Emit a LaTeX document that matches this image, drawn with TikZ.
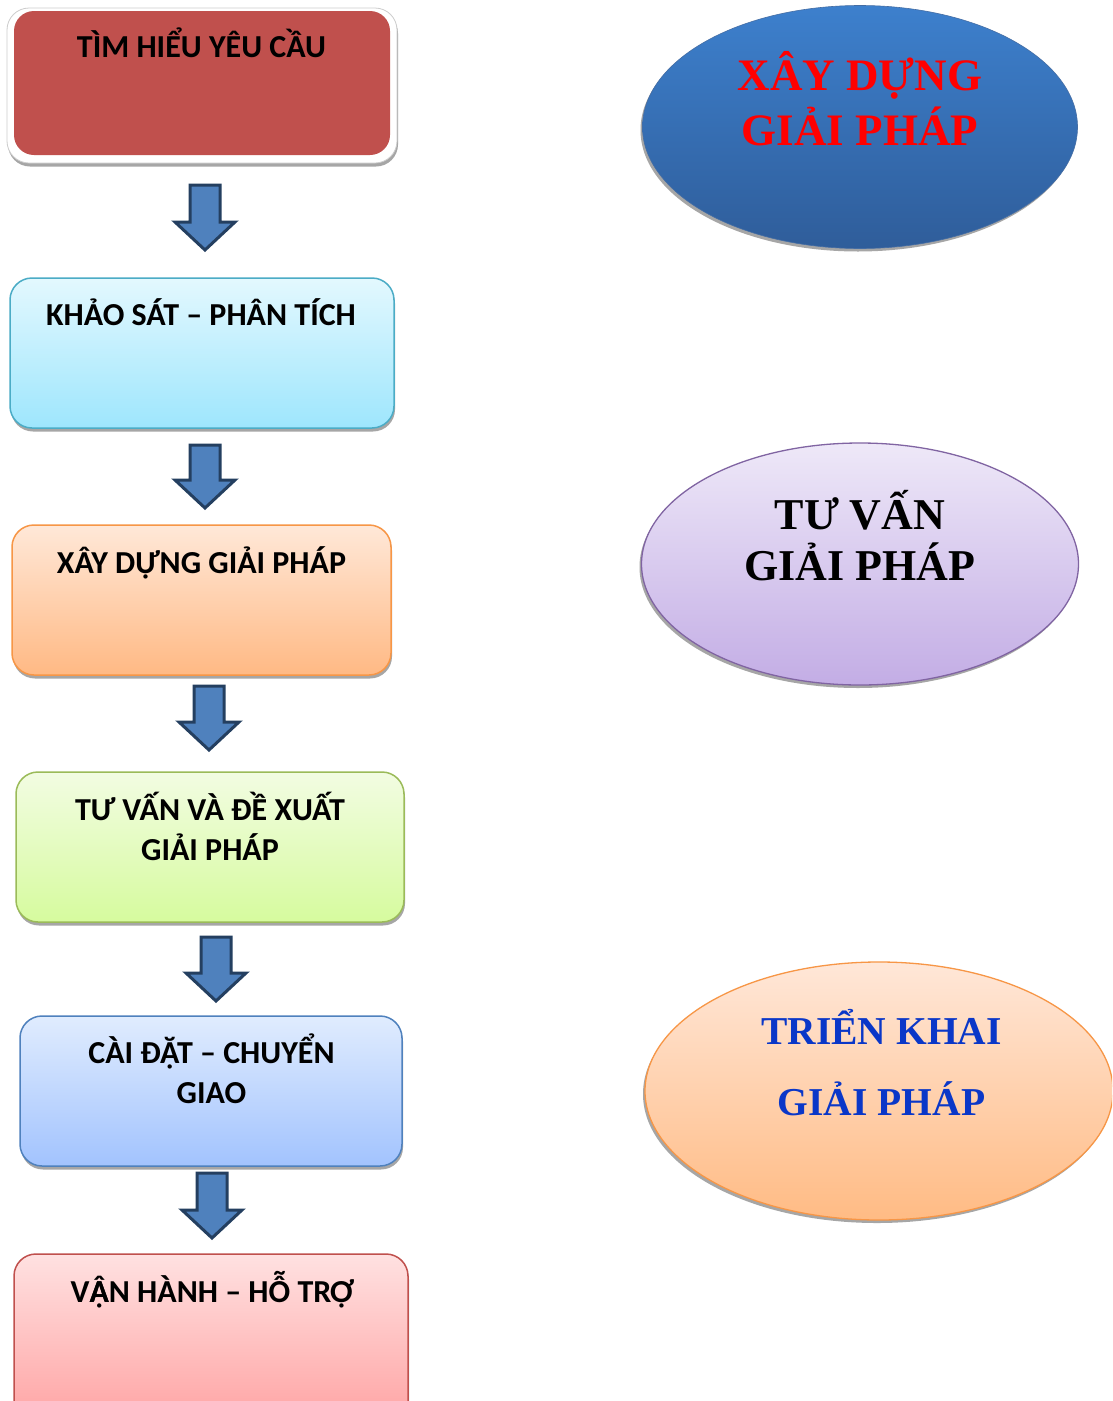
\documentclass[tikz,border=0pt]{standalone}
\usepackage{fontspec}
\setmainfont{Liberation Serif}
\newfontfamily\boxfont{Carlito}
\usetikzlibrary{shadows,shapes.geometric}
\definecolor{redA}{HTML}{C0504D}
\definecolor{cyTop}{HTML}{E3F8FE}\definecolor{cyBot}{HTML}{9EE6FD}\definecolor{cyLine}{HTML}{4BACC6}
\definecolor{orTop}{HTML}{FFE8D8}\definecolor{orBot}{HTML}{FFB984}\definecolor{orLine}{HTML}{F79646}
\definecolor{grTop}{HTML}{F2FCE2}\definecolor{grBot}{HTML}{D6FB9E}\definecolor{grLine}{HTML}{9BBB59}
\definecolor{blTop}{HTML}{E0ECFE}\definecolor{blBot}{HTML}{A2C3FE}\definecolor{blLine}{HTML}{4F81BD}
\definecolor{pkTop}{HTML}{FFE1E1}\definecolor{pkBot}{HTML}{FFA3A3}
\definecolor{eoTop}{HTML}{3D80CD}\definecolor{eoBot}{HTML}{2F5D9A}
\definecolor{puTop}{HTML}{EEE8F8}\definecolor{puBot}{HTML}{C3ADE5}\definecolor{puLine}{HTML}{8064A2}
\definecolor{peTop}{HTML}{FFE7D8}\definecolor{peBot}{HTML}{FFBB84}
\definecolor{arrFill}{HTML}{4F81BD}\definecolor{arrLine}{HTML}{243F60}
\definecolor{txtBlue}{HTML}{0A37C8}
\newcommand\blockarr[3]{%
  \draw[arrowst] (#1-15,#2) -- (#1+15,#2) -- (#1+15,#3-28) -- (#1+30,#3-28) -- (#1,#3) -- (#1-30,#3-28) -- (#1-15,#3-28) -- cycle;}
\begin{document}
\begin{tikzpicture}[x=1pt,y=-1pt,
  stepbox/.style={rounded corners=22pt, line width=1.5pt, inner sep=0pt,
    drop shadow={shadow xshift=1pt, shadow yshift=-3.5pt, fill=gray!70, opacity=1}},
  boxtext/.style={font=\boxfont\bfseries\fontsize{32}{40}\selectfont, align=center, inner sep=0pt, anchor=base},
  oval/.style={ellipse, inner sep=0pt, line width=1.3pt,
    drop shadow={shadow xshift=-2pt, shadow yshift=-3pt, fill=gray!70, opacity=1}},
  ovaltext/.style={font=\bfseries\fontsize{45}{55}\selectfont, align=center, inner sep=0pt, anchor=base},
  arrowst/.style={fill=arrFill, draw=arrLine, line width=3pt, line join=miter}]
\clip (0,0) rectangle (1112,1401);
\fill[white] (0,0) rectangle (1112,1401);
% boxes
\node[stepbox, fill=white, draw=gray!40, line width=0.8pt, minimum width=390, minimum height=155] (b1o) at (202,85.5) {};
\node[rounded corners=20pt, fill=redA, inner sep=0pt, minimum width=376, minimum height=144] (b1) at (202,83) {};
\node[stepbox, top color=cyTop, bottom color=cyBot, draw=cyLine, minimum width=384, minimum height=150] (b2) at (202,353) {};
\node[stepbox, top color=orTop, bottom color=orBot, draw=orLine, minimum width=379, minimum height=150] (b3) at (201.5,600) {};
\node[stepbox, top color=grTop, bottom color=grBot, draw=grLine, minimum width=388, minimum height=150] (b4) at (210,847) {};
\node[stepbox, top color=blTop, bottom color=blBot, draw=blLine, minimum width=382, minimum height=150] (b5) at (211,1091) {};
\node[stepbox, top color=pkTop, bottom color=pkBot, draw=redA, minimum width=394, minimum height=170] (b6) at (211,1339) {};
% box texts
\node[boxtext] (t1) at (201.5,57) {TÌM HIỂU YÊU CẦU};
\node[boxtext] (t2) at (201,325) {KHẢO SÁT – PHÂN TÍCH};
\node[boxtext] (t3) at (201.5,573) {XÂY DỰNG GIẢI PHÁP};
\node[boxtext] (t4) at (210,860) {TƯ VẤN VÀ ĐỀ XUẤT\\GIẢI PHÁP};
\node[boxtext] (t5) at (211.5,1103) {CÀI ĐẶT – CHUYỂN\\GIAO};
\node[boxtext] (t6) at (212,1302) {V\rlap{Â}ẠN HÀNH – HỖ TRỢ};
% arrows
\blockarr{205}{185}{250}
\blockarr{205}{445}{508}
\blockarr{209}{686}{750}
\blockarr{216}{937}{1001}
\blockarr{212}{1173}{1238}
% ovals
\node[oval, top color=eoTop, bottom color=eoBot, draw=eoBot!90, line width=0.6pt, minimum width=435, minimum height=243] (e1) at (860,127) {};
\node[oval, top color=puTop, bottom color=puBot, draw=puLine, minimum width=437, minimum height=242] (e2) at (860,564) {};
\node[oval, top color=peTop, bottom color=peBot, draw=orLine, minimum width=468, minimum height=258] (e3) at (879,1091) {};
\node[ovaltext, text=red] (o1) at (860,145) {XÂY DỰNG\\GIẢI PHÁP};
\node[ovaltext, text=black, font=\bfseries\fontsize{44}{51}\selectfont] (o2) at (860,580) {TƯ VẤN\\GIẢI PHÁP};
\node[ovaltext, text=txtBlue, font=\bfseries\fontsize{39.5}{71}\selectfont] (o3) at (881.5,1115) {TRIỂN KHAI\\GIẢI PHÁP};
\end{tikzpicture}
\end{document}
